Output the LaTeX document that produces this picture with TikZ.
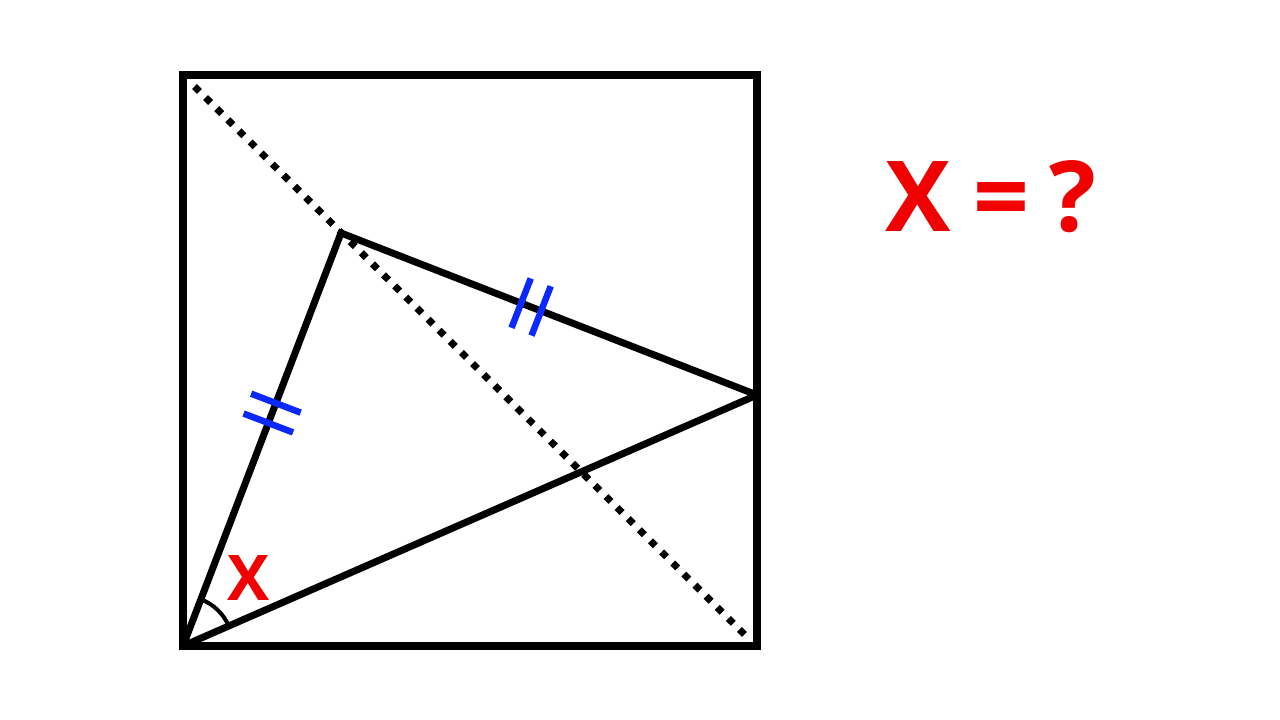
\documentclass[tikz,border=0pt]{standalone}
\usepackage{fontspec}
\setmainfont{Open Sans}
\usetikzlibrary{calc}
\definecolor{tickblue}{RGB}{10,40,255}
\definecolor{qred}{RGB}{240,0,0}
\tikzset{
  edge/.style={line width=7pt, line cap=butt, line join=miter},
  sq/.style={line width=7.5pt, line join=miter},
  diag/.style={line width=7pt, dash pattern=on 7pt off 8.7pt},
  tick/.style={tickblue, line width=6.5pt},
  anglearc/.style={line width=4pt},
  redlbl/.style={text=qred, inner sep=0pt, anchor=base},
  bigfont/.style={font=\fontsize{98}{98}\selectfont\bfseries},
  smallfont/.style={font=\fontsize{63}{63}\selectfont\bfseries}
}
\begin{document}
\begin{tikzpicture}[x=1pt,y=-1pt]
\useasboundingbox (0,0) rectangle (1280,720);
\fill[white] (0,0) rectangle (1280,720);
\coordinate (A) at (183,646);
\coordinate (B) at (757,646);
\coordinate (C) at (757,75);
\coordinate (D) at (183,75);
\coordinate (P) at (341,233);
\coordinate (R) at (757,395);
\coordinate (d1) at (194.5,86.5);
\coordinate (d2) at (745.5,635.5);
% dotted diagonal
\draw[diag] (d1) -- (d2);
% square
\draw[sq] (A) -- (B) -- (C) -- (D) -- cycle;
% triangle
\draw[edge] (A) -- (P) -- (R);
\draw[edge] (R) -- (A);
% ticks on AP
\foreach \t in {0.540,0.588}{
  \draw[tick] ($(A)!\t!(P)!26.5pt!90:(P)$) -- ($(A)!\t!(P)!26.5pt!-90:(P)$);
}
% ticks on PR
\foreach \t in {0.433,0.481}{
  \draw[tick] ($(P)!\t!(R)!26.5pt!90:(R)$) -- ($(P)!\t!(R)!26.5pt!-90:(R)$);
}
% angle arc
\draw[anglearc] (A) ++(23.6:50pt) arc[start angle=23.6, end angle=69.1, radius=50pt];
% labels
\node[redlbl, smallfont] (xl) at (249,600) {X};
\node[redlbl, bigfont] (qx) at (918,231) {X};
\node[redlbl, bigfont] (qe) at (1001.5,231) {=};
\node[redlbl, bigfont] (qq) at (1072.5,231) {?};
\end{tikzpicture}
\end{document}
